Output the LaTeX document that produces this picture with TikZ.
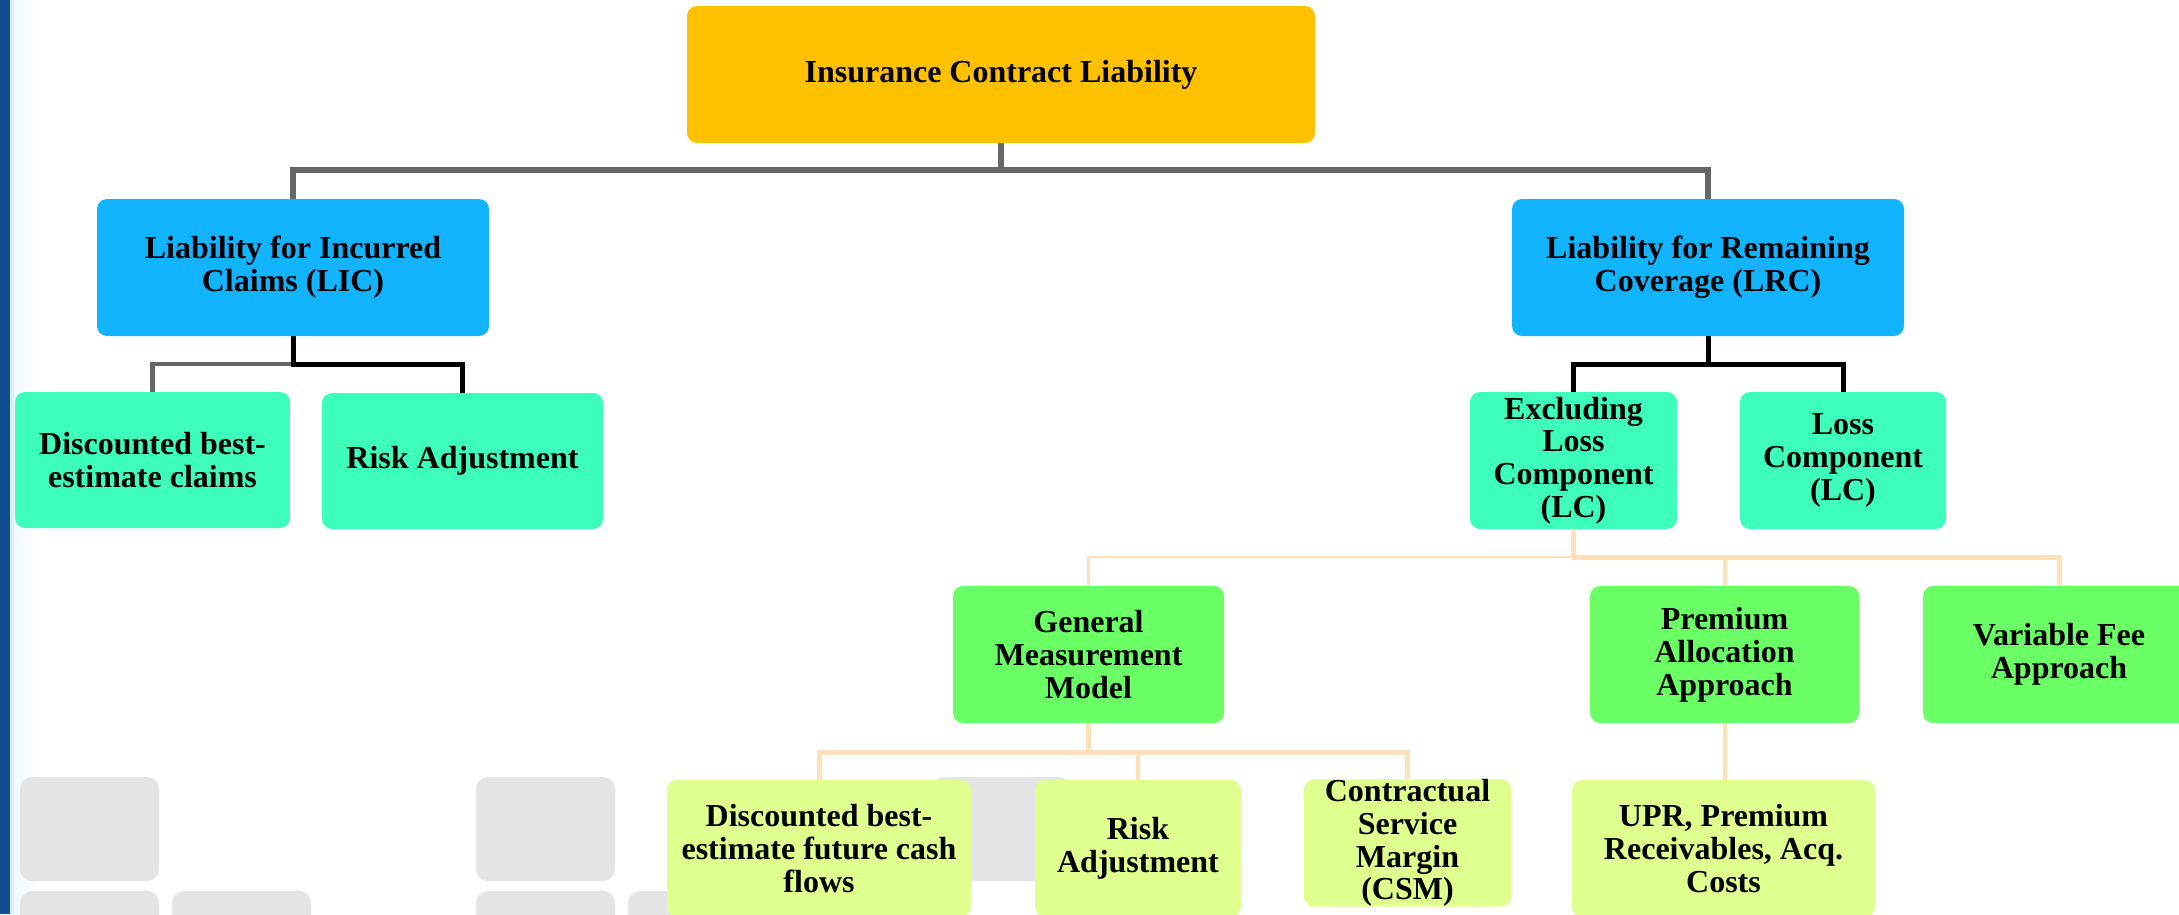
\documentclass[tikz,border=0pt]{standalone}
\usepackage{fontspec}
\setmainfont{Liberation Serif}
\definecolor{cTop}{HTML}{FFC000}
\definecolor{cBlue}{HTML}{12B3FF}
\definecolor{cTeal}{HTML}{3DFFBB}
\definecolor{cGreen}{HTML}{6BFF66}
\definecolor{cLeaf}{HTML}{DFFF8E}
\definecolor{cGrayLine}{HTML}{666666}
\definecolor{cPeach}{HTML}{FFE0B8}
\definecolor{cWater}{HTML}{E4E4E4}
\definecolor{cStrip}{HTML}{0F4F8F}
\definecolor{cStripLight}{HTML}{DCEEFF}
\pgfdeclarelayer{bgzero}
\pgfdeclarelayer{bgone}
\pgfsetlayers{bgzero,bgone,main}
\tikzset{
  box/.style={rounded corners=10pt, inner sep=0pt, align=center, text=black,
    font={\bfseries\fontsize{32}{32.8}\selectfont}},
  water/.style={fill=cWater, rounded corners=12pt},
  grayline/.style={draw=cGrayLine, line width=5.5pt},
  grayline2/.style={draw=cGrayLine, line width=4.5pt},
  blkline/.style={draw=black, line width=5pt},
  peachthick/.style={draw=cPeach, line width=5pt},
  peachmid/.style={draw=cPeach, line width=4pt},
  peachthin/.style={draw=cPeach, line width=2.5pt},
}
\begin{document}
\begin{tikzpicture}[x=1pt,y=-1pt]
\useasboundingbox (0,0) rectangle (2179,914);
\clip (0,0) rectangle (2179,914);
\begin{pgfonlayer}{bgzero}
\fill[white] (0,0) rectangle (2179,914);
% left strip
\fill[cStrip] (0,0) rectangle (10,914);
\fill[cStripLight] (10,0) rectangle (14,914);
\shade[left color=cStripLight!40, right color=white] (14,0) rectangle (40,914);
% watermark squares
\fill[water] (20,777) rectangle (159,881);
\fill[water] (476,777) rectangle (615,881);
\fill[water] (932,777) rectangle (1071,881);
\fill[water] (20,891) rectangle (159,960);
\fill[water] (172,891) rectangle (311,960);
\fill[water] (476,891) rectangle (615,960);
\fill[water] (628,891) rectangle (767,960);
\end{pgfonlayer}

% nodes
\node[box, fill=cTop, minimum width=628pt, minimum height=137pt] (top) at (1001,74.5) {Insurance Contract Liability};
\node[box, fill=cBlue, minimum width=392pt, minimum height=137pt] (lic) at (293,267.5) {Liability for Incurred\\Claims (LIC)};
\node[box, fill=cBlue, minimum width=392pt, minimum height=137pt] (lrc) at (1708,267.5) {Liability for Remaining\\Coverage (LRC)};
\node[box, fill=cTeal, minimum width=275pt, minimum height=136pt] (dbc) at (152.5,460) {Discounted best-\\estimate claims};
\node[box, fill=cTeal, minimum width=281pt, minimum height=136pt] (ra1) at (462.5,461) {Risk Adjustment};
\node[box, fill=cTeal, minimum width=207pt, minimum height=137pt] (exl) at (1573.5,460.5) {Excluding\\Loss\\Component\\(LC)};
\node[box, fill=cTeal, minimum width=206pt, minimum height=137pt] (loss) at (1843,460.5) {Loss\\Component\\(LC)};
\node[box, fill=cGreen, minimum width=271pt, minimum height=137pt] (gmm) at (1088.5,654.5) {General\\Measurement\\Model};
\node[box, fill=cGreen, minimum width=269pt, minimum height=137pt] (paa) at (1724.5,654.5) {Premium\\Allocation\\Approach};
\node[box, fill=cGreen, minimum width=272pt, minimum height=137pt] (vfa) at (2059,654.5) {Variable Fee\\Approach};
\node[box, fill=cLeaf, minimum width=304pt, minimum height=137pt] (dfc) at (819,848.5) {Discounted best-\\estimate future cash\\flows};
\node[box, fill=cLeaf, minimum width=206pt, minimum height=137pt] (ra2) at (1138,848.5) {Risk\\Adjustment};
\node[box, fill=cLeaf, minimum width=207pt, minimum height=126pt] (csm) at (1407.5,843) {Contractual\\Service\\Margin\\(CSM)};
\node[box, fill=cLeaf, minimum width=303pt, minimum height=137pt] (upr) at (1723.5,848.5) {UPR, Premium\\Receivables, Acq.\\Costs};

% connectors (behind nodes)
\begin{pgfonlayer}{bgone}
\coordinate (b0) at (0,170);
\coordinate (b1) at (0,364);
\coordinate (b2) at (0,557);
\coordinate (b3) at (0,752);
\draw[grayline] (top.south) -- (top.south |- b0) -| (lic.north);
\draw[grayline] (top.south |- b0) -| (lrc.north);
\draw[grayline2] (lic.south |- b1) -| (dbc.north);
\draw[blkline] (lic.south) -- (lic.south |- b1) -| (ra1.north);
\draw[blkline] (lrc.south) -- (lrc.south |- b1) -| (exl.north);
\draw[blkline] (lrc.south |- b1) -| (loss.north);
\draw[peachthin] (exl.south |- b2) -| (gmm.north);
\draw[peachthick] (exl.south) -- (exl.south |- b2) -| (vfa.north);
\draw[peachmid] (paa.north |- b2) -- (paa.north);
\draw[peachthick] (gmm.south) -- (gmm.south |- b3) -| (dfc.north);
\draw[peachthick] (gmm.south |- b3) -| (csm.north);
\draw[peachmid] (ra2.north |- b3) -- (ra2.north);
\draw[peachmid] (paa.south) -- (paa.south |- upr.north);
\end{pgfonlayer}
\end{tikzpicture}
\end{document}
